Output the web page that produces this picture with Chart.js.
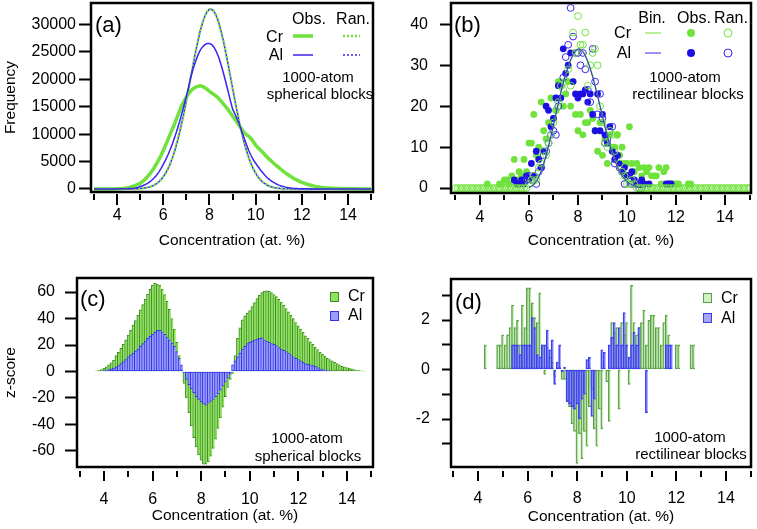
<!DOCTYPE html>
<html>
<head>
<meta charset="utf-8">
<script src="https://cdn.jsdelivr.net/npm/chart.js@4.4.1/dist/chart.umd.min.js"></script>
<style>
  html, body { margin: 0; padding: 0; background: #fff; }
  #wrap { position: relative; width: 757px; height: 529px; overflow: hidden; }
  canvas { position: absolute; }
</style>
</head>
<body>
<div id="wrap">
  <canvas id="chartA" width="378" height="262" style="left:0;top:0"></canvas>
  <canvas id="chartB" width="379" height="262" style="left:378px;top:0"></canvas>
  <canvas id="chartC" width="378" height="264" style="left:0;top:265px"></canvas>
  <canvas id="chartD" width="379" height="264" style="left:378px;top:265px"></canvas>
</div>
<script>
// concentration bins are 0.1 at.% wide
const STEP = 0.1;

// x axis: tick marks at every integer, labels at even values
const xTickMarks = [3, 4, 5, 6, 7, 8, 9, 10, 11, 12, 13, 14, 15];
const xTickLabels = [4, 6, 8, 10, 12, 14];

// y ticks of each panel
const yTicksA = [0, 5000, 10000, 15000, 20000, 25000, 30000];
const yTicksB = [0, 10, 20, 30, 40];
const yTicksC = [-60, -40, -20, 0, 20, 40, 60];
const yTicksD = [-3, -2, -1, 0, 1, 2, 3];

// (a) frequency, spherical blocks, 3.0 .. 15.0
const sphStart = 3.0;
const crObsSph = [
  0, 0, 0, 0, 0, 0, 0, 0, 10, 20,
  40, 60, 90, 130, 190, 270, 380, 520, 650, 830,
  1050, 1350, 1700, 2150, 2650, 3200, 3850, 4550, 5300, 6100,
  7000, 8000, 9000, 10000, 11000, 12000, 13100, 14200, 15200, 16000,
  16800, 17400, 17900, 18300, 18550, 18700, 18800, 18700, 18450, 18150,
  17800, 17500, 17200, 16900, 16500, 16000, 15500, 15000, 14500, 13900,
  13300, 12700, 12100, 11500, 10900, 10300, 9900, 9600, 9200, 8600,
  8000, 7500, 7100, 6700, 6250, 5800, 5400, 5000, 4600, 4250,
  3900, 3550, 3200, 2900, 2600, 2300, 2050, 1800, 1600, 1400,
  1200, 1050, 900, 780, 670, 570, 480, 400, 340, 290,
  240, 200, 170, 140, 120, 100, 85, 70, 60, 50,
  40, 35, 30, 25, 20, 15, 12, 10, 8, 5, 3
];
const alObsSph = [
  0, 0, 0, 0, 0, 0, 0, 0, 0, 0,
  10, 20, 30, 40, 60, 80, 110, 150, 200, 290,
  450, 590, 770, 990, 1260, 1590, 1990, 2470, 3030, 3700,
  4500, 5300, 6200, 7200, 8300, 9500, 10800, 12200, 13700, 15300,
  16900, 18700, 20500, 22000, 23300, 24400, 25300, 25900, 26300, 26500,
  26500, 26300, 25800, 25000, 24000, 22700, 21200, 19600, 17900, 16200,
  14600, 13700, 12700, 11700, 10500, 9300, 8100, 7000, 6100, 5300,
  4700, 4100, 3500, 3000, 2500, 2050, 1700, 1400, 1150, 900,
  700, 560, 440, 340, 260, 200, 150, 110, 80, 60,
  40, 30, 20, 15, 10, 8, 5, 3, 2, 1,
  0, 0, 0, 0, 0, 0, 0, 0, 0, 0,
  0, 0, 0, 0, 0, 0, 0, 0, 0, 0, 0
];
const crRanSph = [
  0, 0, 0, 0, 0, 0, 0, 0, 0, 0,
  1, 2, 3, 4, 6, 10, 16, 24, 37, 56,
  84, 123, 179, 256, 361, 504, 695, 947, 1270, 1690,
  2210, 2860, 3650, 4590, 5710, 7020, 8510, 10180, 12030, 14030,
  16160, 18370, 20630, 22860, 25010, 27010, 28800, 30320, 31510, 32330,
  32750, 32750, 32330, 31510, 30320, 28800, 27010, 25010, 22860, 20630,
  18370, 16160, 14030, 12030, 10180, 8510, 7020, 5710, 4590, 3650,
  2860, 2210, 1690, 1270, 947, 695, 504, 361, 256, 179,
  123, 84, 56, 37, 24, 16, 10, 6, 4, 2,
  1, 0, 0, 0, 0, 0, 0, 0, 0, 0,
  0, 0, 0, 0, 0, 0, 0, 0, 0, 0,
  0, 0, 0, 0, 0, 0, 0, 0, 0, 0, 0
];
const alRanSph = [
  0, 0, 0, 0, 0, 0, 0, 0, 0, 0,
  1, 1, 2, 4, 7, 9, 15, 25, 36, 58,
  86, 120, 182, 251, 365, 498, 700, 940, 1280, 1680,
  2220, 2840, 3660, 4570, 5730, 7000, 8530, 10150, 12060, 14000,
  16190, 18340, 20660, 22830, 25040, 26980, 28830, 30290, 31540, 32300,
  32780, 32720, 32360, 31480, 30350, 28770, 27040, 24980, 22890, 20600,
  18400, 16130, 14060, 12000, 10210, 8480, 7050, 5690, 4610, 3630,
  2870, 2190, 1700, 1260, 955, 690, 508, 358, 259, 176,
  125, 82, 57, 36, 25, 15, 11, 6, 4, 2,
  1, 0, 0, 0, 0, 0, 0, 0, 0, 0,
  0, 0, 0, 0, 0, 0, 0, 0, 0, 0,
  0, 0, 0, 0, 0, 0, 0, 0, 0, 0, 0
];

// (b) frequency, rectilinear blocks
const binRectStart = 6.0;
const crBinRect = [
  0.2, 0.4, 0.8, 1.5, 2.6, 4.0, 5.8, 7.9, 10.2, 12.7,
  15.3, 18.0, 20.6, 23.2, 25.6, 27.7, 29.6, 31.2, 32.5, 33.4,
  33.9, 33.9, 33.4, 32.4, 31.0, 29.3, 27.3, 25.0, 22.6, 20.1,
  17.6, 15.1, 12.8, 10.6, 8.6, 6.9, 5.4, 4.1, 3.1, 2.3,
  1.7, 1.2, 0.8, 0.5, 0.3, 0.2, 0.1
];
const alBinRect = [
  0.2, 0.4, 0.9, 1.6, 2.7, 4.1, 5.9, 8.0, 10.3, 12.8,
  15.4, 18.1, 20.7, 23.3, 25.7, 27.8, 29.7, 31.3, 32.6, 33.5,
  34.0, 33.9, 33.3, 32.3, 30.9, 29.2, 27.2, 24.9, 22.5, 20.0,
  17.5, 15.0, 12.7, 10.5, 8.5, 6.8, 5.3, 4.0, 3.0, 2.2,
  1.6, 1.1, 0.8, 0.5, 0.3, 0.2, 0.1
];
const crObsRectStart = 4.3;
const crObsRect = [
  1, null, null, null, null, 1, 1, 2, 2, 1,
  3, 7, 2, 4, 3, 7, 4, 11, 11, 18,
  8, 10, 21, 14, 12, 16, 22, 17, 19, 26,
  26, 20, 23, 26, 20, 26, 18, 14, 18, 13,
  16, 16, 19, 17, 14, 9, 16, 8, 12, 6,
  13, 10, 10, 13, 8, 10, 6, 6, 15, 6,
  4, 6, 5, 3, 5, 4, 5, 3, 3, 3,
  5, 1, 4, 5, 1, 1, 1, 1, 1, null,
  null, null, 1, 1, null
];
const alObsRectStart = 5.4;
const alObsRect = [
  2, 1, 1, 2, 1, 3, 2, 6, 3, 9,
  7, 5, 9, 20, 19, 15, 17, 22, 25, 22,
  34, 28, 30, 33, 26, 23, 22, 23, 23, 24,
  21, 23, 18, 14, 23, 14, 18, 13, 11, 15,
  9, 7, 8, 6, 4, 5, 3, 3, 4, 2,
  1, 1, 2, 1, null, 1, null, null, null, null,
  null, null, 1, 1, 1
];
const crRanRectStart = 3.0;
const crRanRect = [
  0, 0, 0, 0, 0, 0, 0, 0, 0, 0,
  0, 0, 0, 0, 0, 0, 0, 0, 0, 0,
  0, 0, 0, 0, 0, 0, 0, 0, 0, 0,
  1, 2, 3, 2, 5, 6, 9, 8, 11, 13,
  16, 19, 21, 25, 24, 26, 29, 25, 38, 33,
  42, 35, 35, 38, 25, 30, 33, 34, 30, 20,
  16, 11, 10, 14, 13, 9, 13, 6, 4, 3,
  1, 1, 2, 1, 0, 0, 0, 0, 0, 0,
  0, 0, 0, 0, 0, 0, 0, 0, 0, 0,
  0, 0, 0, 0, 0, 0, 0, 0, 0, 0,
  0, 0, 0, 0, 0, 0, 0, 0, 0, 0,
  0, 0, 0, 0, 0, 0, 0, 0, 0, 0, 0
];
const alRanRectStart = 5.9;
const alRanRect = [
  2, 3, 2, 3, 1, 4, 5, 8, 9, 11,
  13, 14, 13, 20, 25, 27, 32, 35, 44, 37,
  33, 33, 30, 33, 29, 24, 21, 34, 26, 18,
  23, 17, 11, 12, 14, 15, 6, 8, 5, 4,
  1, 3, 2, 1, 1, 1, 0, 0
];

// (c) z-score, spherical blocks
const crZSphStart = 3.7;
const crZSph = [
  0.5, 1.0, 1.5,
  2.5, 3.5, 5, 6.5, 8.5, 12, 14.5, 17.5, 20.5, 24,
  27.5, 31, 35, 38.5, 42.5, 46.5, 50.5, 54.5, 58.5, 62,
  65, 66.5, 66, 65, 62, 58, 53, 47, 40, 32,
  22, 12, 2, -9, -20, -31, -41, -50, -57, -63,
  -67, -70, -70, -68, -64, -58, -51, -43, -35, -27,
  -19, -12, -6, -1.5, 12, 25, 33, 39, 42, 44,
  46, 49, 52, 55, 57.5, 59.5, 60.5, 61, 60.5, 59.5,
  58, 56.5, 54.5, 52.5, 50, 47.5, 45, 42.5, 40, 37,
  34.5, 32, 29.5, 27, 25, 22.5, 20.5, 18.5, 16.5, 14.5,
  13, 11.5, 10, 9, 8, 7, 6, 5, 4, 3.5,
  3, 2.5, 2, 1.5, 1, 0.8, 0.5, 0.3
];
const alZSphStart = 4.0;
const alZSph = [
  0.5, 1, 1.5, 2, 2.5, 3.5, 4.5, 6, 7.5, 9,
  11, 12.5, 14, 15.5, 17, 19, 21, 23, 25, 26.5,
  28, 29.5, 31, 31, 30, 28, 26, 24, 21.5, 19,
  15, 10, 5, -1, -6, -10, -13, -16, -19, -21,
  -23, -24.5, -25.5, -24, -22.5, -21, -19, -17, -14, -11,
  -8, -5, -2, 5, 8, 11, 14, 17, 19, 21,
  22, 23, 24, 24.5, 25, 25.5, 24, 23, 22, 21,
  20.5, 19.5, 18, 17, 16, 15, 14, 12.5, 11, 10,
  9, 8, 7, 6, 5.5, 5, 4.5, 4, 3, 2,
  1.5, 1, 1, 0.5
];

// (d) z-score, rectilinear blocks
const crZRectStart = 4.3;
const crZRect = [
  1.0, null, null, null, null, 1.0, 1.0, 1.4, 1.0, 1.4,
  1.7, 2.6, 1.7, 2.0, 1.0, 2.6, 1.7, 3.3, 3.3, 2.7,
  2.1, 1.9, 3.1, 1.0, -0.2, 0.9, 0.5, 0.3, -0.3, 0.1,
  0.1, -0.4, -0.4, -1.3, -1.5, -2.2, -2.5, -3.8, -2.6, -3.6,
  -2.5, -3.1, -1.5, -0.8, -2.4, -3.1, -1.6, -2.4, 0.0, -0.5,
  -2.1, 1.9, 1.5, 1.7, -1.6, 1.9, 1.4, 1.9, -0.6, 3.4,
  1.9, 1.4, 1.7, 1.9, 2.4, 1.0, 2.0, 2.2, 2.2, 1.7,
  1.7, 1.0, 1.9, 2.2, 1.4, null, null, 1.0, 1.0, null,
  null, null, null, 1.0, 1.0
];
const alZRectStart = 5.4;
const alZRect = [
  1.0, 1.0, 1.0, 0.6, 1.0, 1.0, 1.0, 1.0, 2.1, 1.7,
  0.6, 0.5, 1.0, 1.0, 1.6, 0.8, 1.2, -0.6, 0.3, 1.0,
  -0.1, 0.1, -1.3, -1.4, -1.5, -1.6, -1.4, -2.0, -1.2, -1.0,
  0.4, 0.5, -1.9, -1.2, 0.0, 0.0, 0.8, 0.7, 0.0, 1.0,
  1.3, 1.9, 1.0, 1.7, 1.0, 2.3, 1.0, 0.5, 1.0, 1.5,
  1.0, 1.7, 0.0, 0.0, -1.75, 0.0, null, null, null, null,
  null, null, 1.0, 1.0, 1.0
];

const GREEN = '#6fe23c';
const BLUE = '#3a24ee';
const DOT_BLUE = '#1c10e0';
const FONT = '"Liberation Sans", Arial, Helvetica, sans-serif';

Chart.defaults.font.family = FONT;
Chart.defaults.font.size = 15.5;
Chart.defaults.color = '#000';

function pts(start, values) {
  return values.map((v, i) => ({ x: Math.round((start + i * STEP) * 10) / 10, y: v }));
}

function txt(ctx, s, x, y, size, align) {
  ctx.font = size + 'px ' + FONT;
  ctx.textAlign = align || 'center';
  ctx.textBaseline = 'middle';
  ctx.fillStyle = '#000';
  ctx.fillText(s, x, y);
}

function seg(ctx, x1, x2, y, color, width, dash) {
  ctx.save();
  ctx.strokeStyle = color;
  ctx.lineWidth = width;
  ctx.setLineDash(dash || []);
  ctx.beginPath();
  ctx.moveTo(x1, y);
  ctx.lineTo(x2, y);
  ctx.stroke();
  ctx.restore();
}

function swatch(ctx, x, y, fill, edge) {
  ctx.fillStyle = fill;
  ctx.fillRect(x, y, 8, 9);
  ctx.strokeStyle = edge;
  ctx.lineWidth = 1;
  ctx.strokeRect(x + 0.5, y + 0.5, 8, 9);
}

// Igor-style frame: closed box, detached x axis with ticks, annotations
function frame(cfg) {
  return {
    id: 'frame',
    afterDraw(chart) {
      const { ctx, chartArea: a } = chart;
      const x = chart.scales.x;
      ctx.save();
      ctx.strokeStyle = '#000';
      ctx.lineWidth = 2.5;
      ctx.strokeRect(a.left, a.top, a.right - a.left, a.bottom - a.top);
      ctx.lineWidth = 2;
      xTickMarks.forEach(v => {
        const px = Math.round(x.getPixelForValue(v));
        const len = v % 2 === 0 ? cfg.major : cfg.minor;
        ctx.beginPath();
        ctx.moveTo(px, a.bottom + cfg.gap);
        ctx.lineTo(px, a.bottom + cfg.gap + len);
        ctx.stroke();
      });
      cfg.draw(ctx);
      ctx.restore();
    }
  };
}

function xScale(min, max, pad, titlePad, height) {
  return {
    type: 'linear', min: min, max: max, offset: false,
    grid: { display: false }, border: { display: false },
    afterBuildTicks: s => { s.ticks = xTickLabels.map(v => ({ value: v })); },
    afterFit: s => { s.height = height; s.paddingLeft = 0; s.paddingRight = 0; },
    ticks: { padding: pad, autoSkip: false, maxRotation: 0, font: { size: 16 }, callback: v => String(v) },
    title: { display: true, text: 'Concentration (at. %)', padding: { top: 0, bottom: titlePad } }
  };
}

function yScale(min, max, ticks, o) {
  return {
    type: 'linear', min: min, max: max,
    grid: { drawOnChartArea: false, drawTicks: true, tickLength: o.tick, tickWidth: 2, tickColor: '#000' },
    border: { display: false },
    afterBuildTicks: s => { s.ticks = ticks.map(v => ({ value: v })); },
    afterFit: s => { s.width = o.width; s.paddingTop = 0; s.paddingBottom = 0; },
    ticks: { padding: o.pad, autoSkip: false, font: { size: 16 }, callback: o.fmt || (v => String(v)) },
    title: { display: !!o.title, text: o.title || '', padding: { top: 1, bottom: 0 } }
  };
}

function baseOptions(padding) {
  return {
    responsive: false,
    animation: false,
    events: [],
    layout: { padding: padding, autoPadding: false },
    plugins: { legend: { display: false }, tooltip: { enabled: false } }
  };
}

// bars share their edges, as in the Igor histograms
const barStyle = { grouped: false, barPercentage: 1, categoryPercentage: 1, borderSkipped: false,
  borderWidth: { top: 1, bottom: 1, left: 1, right: 0 } };

// (a)
new Chart(document.getElementById('chartA'), {
  type: 'line',
  data: {
    datasets: [
      { data: pts(sphStart, alObsSph), borderColor: BLUE, borderWidth: 1.5, order: 0 },
      { data: pts(sphStart, crObsSph), borderColor: GREEN, borderWidth: 3.5, order: 1 },
      { data: pts(sphStart, alRanSph), borderColor: BLUE, borderWidth: 1.5, borderDash: [2, 2], borderDashOffset: 2, order: 2 },
      { data: pts(sphStart, crRanSph), borderColor: GREEN, borderWidth: 2.5, borderDash: [2, 2], order: 3 }
    ]
  },
  options: Object.assign(baseOptions({ left: 0, right: 5, top: 3, bottom: 0 }), {
    elements: { point: { radius: 0 }, line: { tension: 0 } },
    scales: {
      x: xScale(2.87, 15.08, 6, 12, 70),
      y: yScale(-550, 33900, yTicksA, { tick: 12, pad: 3, width: 91, title: 'Frequency' })
    }
  }),
  plugins: [frame({ gap: 2, major: 11, minor: 6, draw: ctx => {
    txt(ctx, '(a)', 95, 26, 22, 'left');
    txt(ctx, 'Obs.', 309, 20, 16);
    txt(ctx, 'Ran.', 353, 20, 16);
    txt(ctx, 'Cr', 283, 38, 16, 'right');
    txt(ctx, 'Al', 283, 56, 16, 'right');
    seg(ctx, 293, 313, 36, GREEN, 3.5);
    seg(ctx, 343, 360, 36, GREEN, 2.5, [2, 2]);
    seg(ctx, 293, 313, 55, BLUE, 1.5);
    seg(ctx, 343, 360, 55, BLUE, 1.5, [2, 2]);
    txt(ctx, '1000-atom', 318, 78, 15);
    txt(ctx, 'spherical blocks', 320, 95, 15);
  } })]
});

// (b)
const openPt = { pointRadius: 3.4, pointBorderWidth: 1, pointBackgroundColor: 'rgba(0,0,0,0)' };
new Chart(document.getElementById('chartB'), {
  type: 'scatter',
  data: {
    datasets: [
      { data: pts(binRectStart, alBinRect), showLine: true, pointRadius: 0, borderColor: BLUE, borderWidth: 1, order: 0 },
      { data: pts(binRectStart, crBinRect), showLine: true, pointRadius: 0, borderColor: GREEN, borderWidth: 1.5, order: 1 },
      Object.assign({ data: pts(crRanRectStart, crRanRect), borderColor: GREEN, pointBorderColor: GREEN, order: 2 }, openPt),
      Object.assign({ data: pts(alRanRectStart, alRanRect), borderColor: BLUE, pointBorderColor: BLUE, order: 3 }, openPt),
      { data: pts(alObsRectStart, alObsRect), pointRadius: 3.4, pointBorderWidth: 0, pointBackgroundColor: DOT_BLUE, order: 4 },
      { data: pts(crObsRectStart, crObsRect), pointRadius: 3.4, pointBorderWidth: 0, pointBackgroundColor: GREEN, order: 5 }
    ]
  },
  options: Object.assign(baseOptions({ left: 0, right: 6, top: 3, bottom: 0 }), {
    elements: { line: { tension: 0 } },
    scales: {
      x: xScale(2.82, 15.06, 7, 12, 69),
      y: yScale(-1.2, 45.2, yTicksB, { tick: 11, pad: 12, width: 73 })
    }
  }),
  plugins: [frame({ gap: 2, major: 10, minor: 5, draw: ctx => {
    txt(ctx, '(b)', 76, 26, 22, 'left');
    txt(ctx, 'Bin.', 274, 19, 16);
    txt(ctx, 'Obs.', 316, 19, 16);
    txt(ctx, 'Ran.', 353, 19, 16);
    txt(ctx, 'Cr', 253, 34, 16, 'right');
    txt(ctx, 'Al', 253, 54, 16, 'right');
    seg(ctx, 267, 283, 33, GREEN, 1);
    seg(ctx, 267, 283, 53, BLUE, 1);
    ctx.fillStyle = GREEN;
    ctx.beginPath(); ctx.arc(313, 33, 4, 0, Math.PI * 2); ctx.fill();
    ctx.fillStyle = DOT_BLUE;
    ctx.beginPath(); ctx.arc(313, 53, 4, 0, Math.PI * 2); ctx.fill();
    ctx.lineWidth = 1;
    ctx.strokeStyle = GREEN;
    ctx.beginPath(); ctx.arc(350, 33, 4, 0, Math.PI * 2); ctx.stroke();
    ctx.strokeStyle = BLUE;
    ctx.beginPath(); ctx.arc(350, 53, 4, 0, Math.PI * 2); ctx.stroke();
    txt(ctx, '1000-atom', 307, 78, 15);
    txt(ctx, 'rectilinear blocks', 310, 95, 15);
  } })]
});

// (c)
const C_CR_FILL = '#8fe35d', C_CR_EDGE = '#3f8a25';
const C_AL_FILL = '#9d9dff', C_AL_EDGE = '#3030f0';
new Chart(document.getElementById('chartC'), {
  type: 'bar',
  data: {
    datasets: [
      { data: pts(alZSphStart, alZSph), backgroundColor: C_AL_FILL, borderColor: C_AL_EDGE, order: 0 },
      { data: pts(crZSphStart, crZSph), backgroundColor: C_CR_FILL, borderColor: C_CR_EDGE, order: 1 }
    ]
  },
  options: Object.assign(baseOptions({ left: 0, right: 5, top: 13, bottom: 0 }), {
    datasets: { bar: barStyle },
    scales: {
      x: xScale(2.89, 15.07, 15, 4, 62),
      y: yScale(-72.1, 70.6, yTicksC, { tick: 12, pad: 10, width: 77, title: 'z-score' })
    }
  }),
  plugins: [frame({ gap: 4, major: 10, minor: 6, draw: ctx => {
    txt(ctx, '(c)', 80, 35, 22, 'left');
    swatch(ctx, 330, 27, C_CR_FILL, C_CR_EDGE);
    swatch(ctx, 330, 46, C_AL_FILL, C_AL_EDGE);
    txt(ctx, 'Cr', 348, 32, 16, 'left');
    txt(ctx, 'Al', 348, 51, 16, 'left');
    txt(ctx, '1000-atom', 307, 174, 15);
    txt(ctx, 'spherical blocks', 308, 192, 15);
  } })]
});

// (d)
const D_CR_FILL = 'rgba(160, 232, 130, 0.5)', D_CR_EDGE = '#5a9a4a';
const D_AL_FILL = 'rgba(95, 95, 255, 0.55)', D_AL_EDGE = '#3b3bf5';
new Chart(document.getElementById('chartD'), {
  type: 'bar',
  data: {
    datasets: [
      { data: pts(alZRectStart, alZRect), backgroundColor: D_AL_FILL, borderColor: D_AL_EDGE, order: 0 },
      { data: pts(crZRectStart, crZRect), backgroundColor: D_CR_FILL, borderColor: D_CR_EDGE, order: 1 }
    ]
  },
  options: Object.assign(baseOptions({ left: 0, right: 6, top: 14, bottom: 0 }), {
    datasets: { bar: barStyle },
    scales: {
      x: xScale(2.91, 15.01, 14, 3, 62),
      y: yScale(-3.94, 3.66, yTicksD, { tick: 9, pad: 12, width: 73, fmt: v => (v % 2 === 0 ? String(v) : '') })
    }
  }),
  plugins: [frame({ gap: 4, major: 10, minor: 6, draw: ctx => {
    txt(ctx, '(d)', 77, 38, 22, 'left');
    swatch(ctx, 325, 28, D_CR_FILL, D_CR_EDGE);
    swatch(ctx, 325, 48, D_AL_FILL, D_AL_EDGE);
    txt(ctx, 'Cr', 343, 34, 16, 'left');
    txt(ctx, 'Al', 343, 54, 16, 'left');
    txt(ctx, '1000-atom', 312, 173, 15);
    txt(ctx, 'rectilinear blocks', 313, 190, 15);
  } })]
});
</script>
</body>
</html>
